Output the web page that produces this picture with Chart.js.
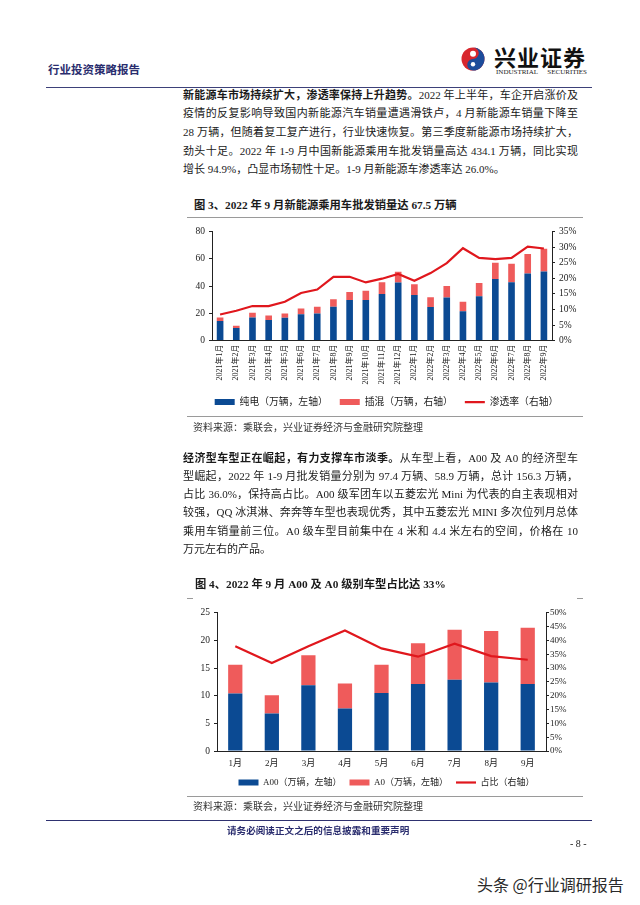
<!DOCTYPE html>
<html>
<head>
<meta charset="utf-8">
<script src="https://cdn.jsdelivr.net/npm/chart.js@4.4.0/dist/chart.umd.min.js"></script>
<style>
  body { margin: 0; background: #fff; }
  #page { position: relative; width: 640px; height: 905px; overflow: hidden; background: #fff;
          font-family: "Liberation Serif", "Noto Sans CJK SC", serif; color: #1a1a1a; }
  .abs { position: absolute; white-space: nowrap; }
  .p { position: absolute; left: 183px; width: 395px; font-size: 11px; }
  .j { text-align: justify; text-align-last: justify; }
  .hr { position: absolute; height: 0; }
  canvas { position: absolute; }
</style>
</head>
<body>
<div id="page">
  <!-- header -->
  <div class="abs" style="left:48px;top:61px;font-size:11.5px;font-weight:bold;color:#2a2d6e;">行业投资策略报告</div>
  <svg class="abs" style="left:461px;top:47px;" width="24" height="24" viewBox="-12 -12 24 24">
    <circle r="11.5" fill="#d8262d"/>
    <path d="M0,-11.5 A11.5,11.5 0 0 1 0,11.5 A5.75,5.75 0 0 1 0,0 A5.75,5.75 0 0 0 0,-11.5Z" fill="#1c4c9b"/>
    <circle cx="0" cy="-5.2" r="3" fill="#fff"/>
    <circle cx="0" cy="5.2" r="2.2" fill="#fff"/>
  </svg>
  <div class="abs" style="left:494px;top:43px;font-size:22px;font-weight:bold;letter-spacing:1px;color:#111;font-family:'Noto Sans CJK SC';line-height:26px;">兴业证券</div>
  <div class="abs" style="left:496px;top:68px;width:91px;font-size:7px;color:#222;text-align:justify;text-align-last:justify;white-space:normal;">INDUSTRIAL SECURITIES</div>
  <div class="hr" style="left:46px;top:87px;width:546px;border-top:1.6px solid #3d4179;"></div>

  <!-- paragraph 1 -->
  <div class="p" style="top:85.6px;line-height:18.7px;">
    <div class="j"><b>新能源车市场持续扩大，渗透率保持上升趋势。</b>2022 年上半年，车企开启涨价及</div>
    <div class="j">疫情的反复影响导致国内新能源汽车销量遭遇滑铁卢，4 月新能源车销量下降至</div>
    <div class="j">28 万辆，但随着复工复产进行，行业快速恢复。第三季度新能源市场持续扩大，</div>
    <div class="j">劲头十足。2022 年 1-9 月中国新能源乘用车批发销量高达 434.1 万辆，同比实现</div>
    <div>增长 94.9%，凸显市场韧性十足。1-9 月新能源车渗透率达 26.0%。</div>
  </div>

  <!-- figure 3 -->
  <div class="abs" style="left:194px;top:196px;font-size:11.3px;font-weight:bold;">图 3、2022 年 9 月新能源乘用车批发销量达 67.5 万辆</div>
  <div class="hr" style="left:187px;top:217px;width:396px;border-top:1.5px solid #9a9a9a;"></div>
  <canvas id="chart1" width="407" height="195" style="left:183px;top:222px;"></canvas>
  <div class="hr" style="left:187px;top:415.5px;width:396px;border-top:1.5px solid #9a9a9a;"></div>
  <div class="abs" style="left:193px;top:419px;font-size:10px;color:#333;">资料来源：乘联会，兴业证券经济与金融研究院整理</div>

  <!-- paragraph 2 -->
  <div class="p" style="top:448.5px;line-height:18.3px;">
    <div class="j"><b>经济型车型正在崛起，有力支撑车市淡季。</b>从车型上看，A00 及 A0 的经济型车</div>
    <div class="j">型崛起，2022 年 1-9 月批发销量分别为 97.4 万辆、58.9 万辆，总计 156.3 万辆，</div>
    <div class="j">占比 36.0%，保持高占比。A00 级军团车以五菱宏光 Mini 为代表的自主表现相对</div>
    <div class="j">较强，QQ 冰淇淋、奔奔等车型也表现优秀，其中五菱宏光 MINI 多次位列月总体</div>
    <div class="j">乘用车销量前三位。A0 级车型目前集中在 4 米和 4.4 米左右的空间，价格在 10</div>
    <div>万元左右的产品。</div>
  </div>

  <!-- figure 4 -->
  <div class="abs" style="left:195px;top:575px;font-size:11.3px;font-weight:bold;">图 4、2022 年 9 月 A00 及 A0 级别车型占比达 33%</div>
  <div class="hr" style="left:187px;top:597.5px;width:6px;border-top:1px solid #9a9a9a;"></div>
  <div class="hr" style="left:577px;top:597.5px;width:6px;border-top:1px solid #9a9a9a;"></div>
  <canvas id="chart2" width="407" height="194" style="left:183px;top:603px;"></canvas>
  <div class="hr" style="left:187px;top:795.5px;width:396px;border-top:1.5px solid #9a9a9a;"></div>
  <div class="abs" style="left:193px;top:798px;font-size:10px;color:#333;">资料来源：乘联会，兴业证券经济与金融研究院整理</div>

  <!-- footer -->
  <div class="hr" style="left:46px;top:820px;width:546px;border-top:1.6px solid #2e3170;"></div>
  <div class="abs" style="left:227px;top:823px;font-size:9.6px;font-weight:bold;color:#2a2d6e;">请务必阅读正文之后的信息披露和重要声明</div>
  <div class="abs" style="left:570px;top:838px;font-size:10px;">- 8 -</div>
  <div class="abs" style="left:477px;top:872px;font-size:16px;color:#2a2a2a;font-family:'Noto Sans CJK SC';text-shadow:0 0 2px #fff;">头条 @行业调研报告</div>
</div>

<script>
// 图3 数据
const months1 = ['2021年1月', '2021年2月', '2021年3月', '2021年4月', '2021年5月', '2021年6月', '2021年7月',
  '2021年8月', '2021年9月', '2021年10月', '2021年11月', '2021年12月', '2022年1月', '2022年2月',
  '2022年3月', '2022年4月', '2022年5月', '2022年6月', '2022年7月', '2022年8月', '2022年9月'];
const bev = [14.4, 9.3, 17.0, 15.1, 16.8, 19.4, 19.9, 24.9, 29.9, 29.9, 34.3, 42.6, 33.5, 24.7, 31.6, 21.6, 32.6, 45.3, 42.9, 49.3, 50.8];
const phev = [2.6, 1.7, 3.4, 3.3, 3.1, 4.1, 5.0, 5.5, 5.8, 6.7, 8.6, 7.9, 7.9, 7.2, 8.6, 6.9, 9.8, 11.9, 13.6, 14.4, 16.7];
const rate = [8.4, 9.6, 11.1, 11.1, 12.5, 15.3, 16.4, 20.5, 20.5, 18.7, 19.9, 21.4, 19.2, 21.7, 24.9, 29.7, 26.6, 26.2, 26.6, 30.2, 29.6];

// 图4 数据
const months2 = ['1月', '2月', '3月', '4月', '5月', '6月', '7月', '8月', '9月'];
const a00 = [10.4, 6.8, 11.9, 7.7, 10.5, 12.1, 12.9, 12.4, 12.1];
const a0 = [5.2, 3.3, 5.4, 4.5, 5.1, 7.4, 9.0, 9.3, 10.2];
const share = [37.9, 31.8, 37.9, 43.6, 37.1, 34.1, 38.8, 34.3, 33.0];

const BLUE = '#0b4a93';
const PINK = '#ef5b5b';
const RED = '#e0171d';
const INK = '#222';

Chart.defaults.font.family = '"Liberation Serif", "Noto Sans CJK SC", serif';
Chart.defaults.color = INK;

// legend: keep dataset order, bars as flat boxes, line as a short stroke
function legendLabels(size, pad) {
    return {
        usePointStyle: true,
        pointStyleWidth: 20,
        boxHeight: 6,
        padding: pad,
        font: { size: size },
        color: INK,
        generateLabels: chart => Chart.defaults.plugins.legend.labels.generateLabels(chart)
            .sort((a, b) => a.datasetIndex - b.datasetIndex)
            .map(l => Object.assign(l, { pointStyle: l.datasetIndex < 2 ? 'rect' : 'line' }))
    };
}

function yAxis(pos, max, step, width, fmt, extra) {
    return Object.assign({
        position: pos,
        min: 0,
        max: max,
        ticks: { stepSize: step, padding: 4, font: { size: 9.5 }, color: INK, callback: fmt },
        grid: { drawOnChartArea: false, drawTicks: true, tickLength: 3, color: INK },
        border: { color: INK, width: 1 },
        afterFit: s => { s.width = width; }
    }, extra || {});
}

// 图3
new Chart(document.getElementById('chart1'), {
    type: 'bar',
    data: {
        labels: months1,
        datasets: [
            { label: '纯电（万辆，左轴）', data: bev, backgroundColor: BLUE, barPercentage: 0.41, categoryPercentage: 1, order: 1 },
            { label: '插混（万辆，右轴）', data: phev, backgroundColor: PINK, barPercentage: 0.41, categoryPercentage: 1, order: 1 },
            { type: 'line', label: '渗透率（右轴）', data: rate, yAxisID: 'y1', borderColor: RED, backgroundColor: RED,
              borderWidth: 2.2, pointRadius: 0, tension: 0, order: 0 }
        ]
    },
    options: {
        responsive: false,
        animation: false,
        layout: { padding: { top: 7 } },
        plugins: {
            legend: { position: 'bottom', labels: legendLabels(9.8, 12) },
            tooltip: { enabled: false }
        },
        scales: {
            x: {
                stacked: true,
                ticks: { autoSkip: false, minRotation: 90, maxRotation: 90, padding: 4, font: { size: 8 }, color: INK },
                grid: { drawOnChartArea: false, drawTicks: false },
                border: { color: INK, width: 1 },
                afterFit: s => { s.height = 44.6; }
            },
            y: yAxis('left', 80, 10, 29, v => v, { stacked: true }),
            y1: yAxis('right', 35, 5, 38, v => v + '%')
        }
    }
});

// 图4
new Chart(document.getElementById('chart2'), {
    type: 'bar',
    data: {
        labels: months2,
        datasets: [
            { label: 'A00（万辆，左轴）', data: a00, backgroundColor: BLUE, barPercentage: 0.39, categoryPercentage: 1, order: 1 },
            { label: 'A0（万辆，左轴）', data: a0, backgroundColor: PINK, barPercentage: 0.39, categoryPercentage: 1, order: 1 },
            { type: 'line', label: '占比（右轴）', data: share, yAxisID: 'y1', borderColor: RED, backgroundColor: RED,
              borderWidth: 2.2, pointRadius: 0, tension: 0, order: 0 }
        ]
    },
    options: {
        responsive: false,
        animation: false,
        layout: { padding: { top: 7 } },
        plugins: {
            legend: { position: 'bottom', labels: legendLabels(9, 8) },
            tooltip: { enabled: false }
        },
        scales: {
            x: {
                stacked: true,
                ticks: { padding: 7, font: { size: 9 }, color: INK },
                grid: { drawOnChartArea: false, drawTicks: false },
                border: { color: INK, width: 1 },
                afterFit: s => { s.height = 19; }
            },
            y: yAxis('left', 25, 5, 34, v => v, { stacked: true }),
            y1: yAxis('right', 50, 5, 44, v => v + '%', { ticks: { stepSize: 5, padding: 1, font: { size: 9 }, color: INK, callback: v => v + '%' } })
        }
    }
});
</script>
</body>
</html>
